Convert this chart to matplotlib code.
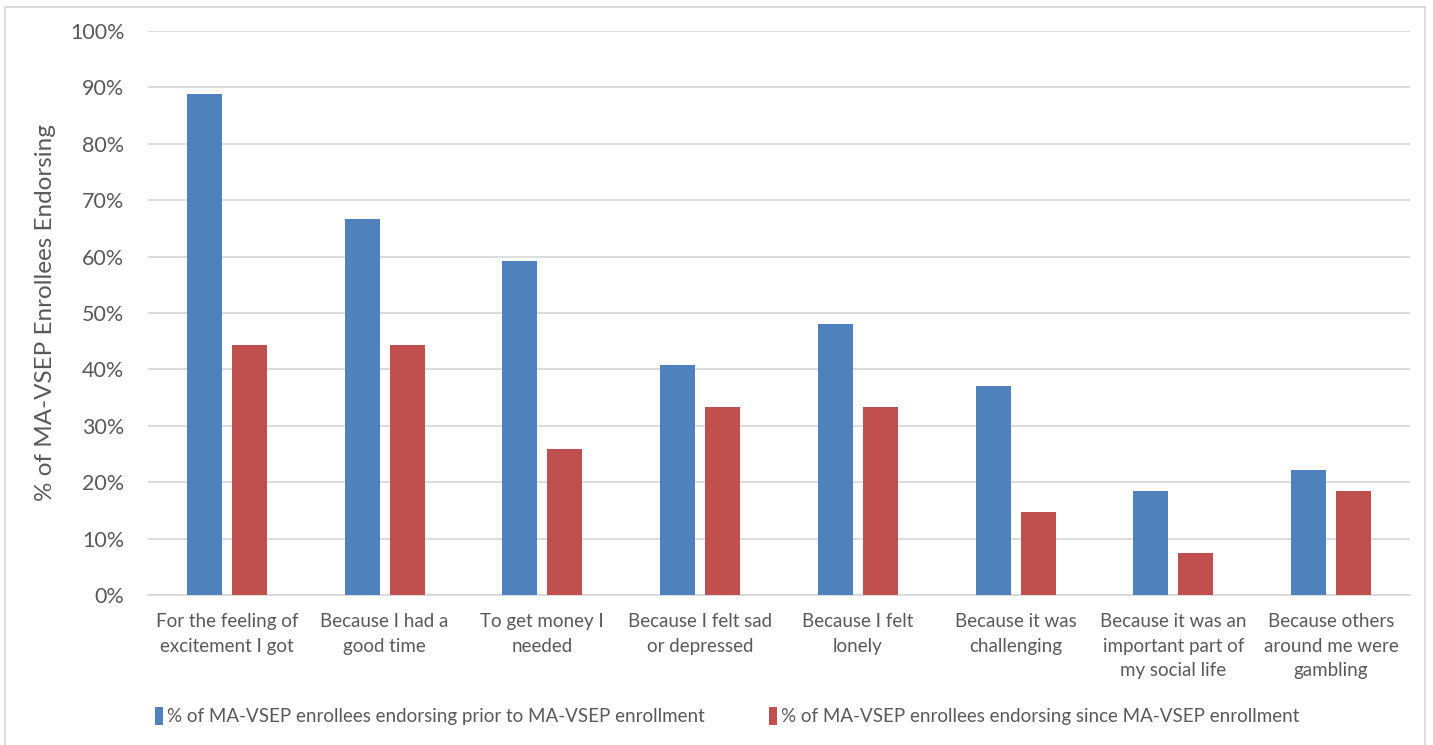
import numpy as np
import matplotlib.pyplot as plt
from matplotlib.patches import Rectangle

# 数据
categories = ["For the feeling of\nexcitement I got", "Because I had a\ngood time",
              "To get money I\nneeded", "Because I felt sad\nor depressed",
              "Because I felt\nlonely", "Because it was\nchallenging",
              "Because it was an\nimportant part of\nmy social life",
              "Because others\naround me were\ngambling"]
prior = [88.9, 66.7, 59.3, 40.7, 48.1, 37.0, 18.5, 22.2]
since = [44.4, 44.4, 25.9, 33.3, 33.3, 14.8, 7.4, 18.5]
label_prior = "% of MA-VSEP enrollees endorsing prior to MA-VSEP enrollment"
label_since = "% of MA-VSEP enrollees endorsing since MA-VSEP enrollment"

plt.rcParams['font.family'] = ['Lato', 'DejaVu Sans']
txt = '#595959'

fig = plt.figure(figsize=(14.33, 7.45), dpi=100)
ax = fig.add_axes([148 / 1433, 150 / 745, 1262 / 1433, 564 / 745])

x = np.arange(len(categories))
w = 0.222
ax.bar(x - 0.143, prior, width=w, color='#4f81bd', label=label_prior, zorder=3)
ax.bar(x + 0.143, since, width=w, color='#c0504d', label=label_since, zorder=3)

ax.set_xlim(-0.5, len(categories) - 0.5)
ax.set_ylim(0, 100)
ax.set_yticks(np.arange(0, 101, 10))
ax.set_yticklabels([f"{v}%" for v in range(0, 101, 10)])
ax.yaxis.grid(True, color='#d9d9d9', linewidth=1.3, zorder=0)
ax.set_xticks(x)
ax.set_xticklabels(categories, linespacing=1.55, va='top')
ax.tick_params(axis='both', length=0, labelsize=13.5, colors=txt)
ax.tick_params(axis='x', pad=13)
ax.tick_params(axis='y', labelsize=15.5, pad=17)
for s in ax.spines.values():
    s.set_visible(False)
ax.spines['bottom'].set_visible(True)
ax.spines['bottom'].set_color('#d9d9d9')
ax.spines['bottom'].set_linewidth(1.3)

ax.set_ylabel("% of MA-VSEP Enrollees Endorsing", fontsize=17.5, color=txt, labelpad=10)

leg = fig.legend(loc='lower left', bbox_to_anchor=(138 / 1433, 3 / 745), ncol=2, frameon=False,
                 fontsize=13.5, handlelength=0.45, handleheight=1.1, handletextpad=0.2,
                 columnspacing=3.4)
for t in leg.get_texts():
    t.set_color(txt)

# 外框
fig.patches.append(Rectangle((5 / 1433, -0.01), 1420 / 1433, 1.0, transform=fig.transFigure,
                             fill=False, edgecolor='#d9d9d9', linewidth=1.3))

fig.savefig("out.png", dpi=100)
